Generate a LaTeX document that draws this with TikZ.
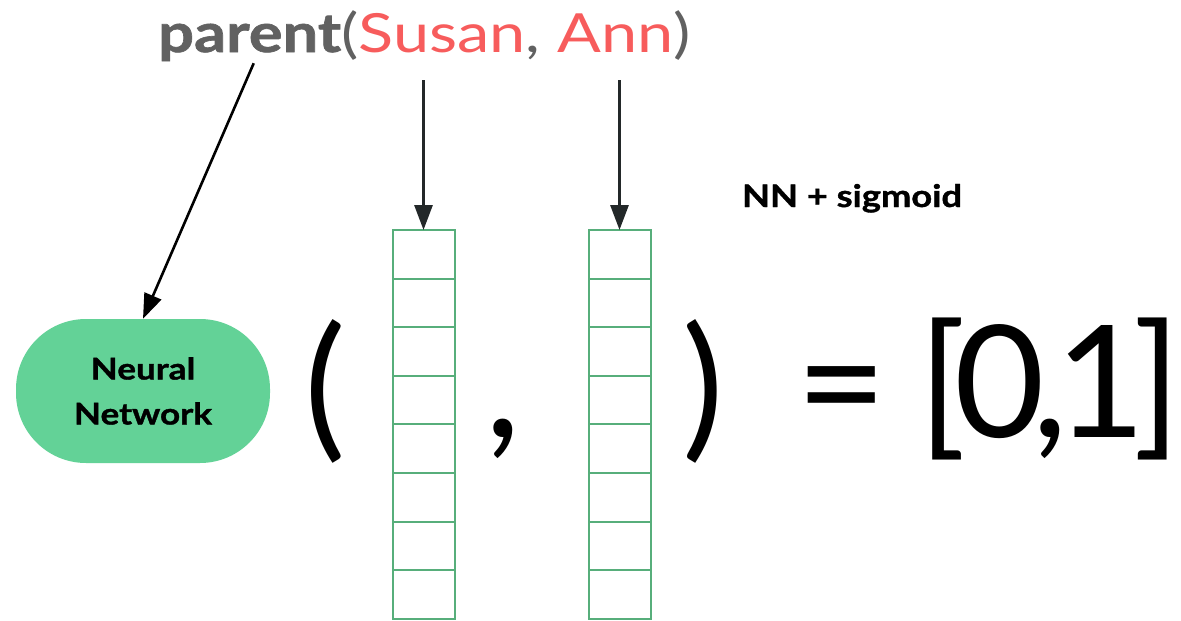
\documentclass[tikz,border=0pt]{standalone}
\usepackage{fontspec}
\setmainfont[FakeStretch=1.2,BoldFeatures={FakeStretch=1.17,FakeBold=1.2}]{Lato}
\newfontfamily\symbolfont{Lato}
\definecolor{predgray}{HTML}{616161}
\definecolor{argred}{HTML}{F75C5C}
\definecolor{nngreen}{HTML}{63D297}
\definecolor{cellgreen}{HTML}{57AE7B}
\definecolor{arrowdark}{HTML}{232829}
\usetikzlibrary{arrows.meta,positioning}
\tikzset{
    embedcell/.style={
        draw=cellgreen,
        fill=white,
        line width=2pt,
        minimum width=62pt,
        minimum height=48.6pt,
        inner sep=0pt,
        outer sep=0pt
    },
    netblob/.style={
        fill=nngreen,
        rounded corners=70pt,
        minimum width=254pt,
        minimum height=144pt,
        align=center,
        font=\bfseries\fontsize{30}{45}\selectfont
    },
    feedarrow/.style={
        -{Triangle[length=25pt,width=18pt]},
        draw=arrowdark,
        line width=3pt
    },
    bigsymbol/.style={
        font=\symbolfont\fontsize{156}{156}\selectfont,
        inner sep=0pt,
        anchor=base
    }
}

\begin{document}
\begin{tikzpicture}[x=1pt,y=-1pt]
        \useasboundingbox (0,0) rectangle (1181,621);

        \node[anchor=base west, inner sep=0pt, text=predgray,
            font=\bfseries\fontsize{54}{54}\selectfont] (predicate) at (158,52) {parent};
        \node[anchor=base west, inner sep=0pt, text=predgray,
            font=\fontsize{54}{54}\selectfont] (arguments) at (predicate.base east)
            {(\textcolor{argred}{Susan}, \textcolor{argred}{Ann})};

        \node[netblob] (network) at (143,391) {Neural\\Network};

        \foreach \i in {1,...,8} {
            \node[embedcell] (left\i) at (423.5,{230+48.6*(\i-0.5)}) {};
            \node[embedcell] (right\i) at (619.5,{230+48.6*(\i-0.5)}) {};
        }

        \coordinate (leftfeed) at (423.5,80);
        \coordinate (rightfeed) at (619.5,80);

        \draw[feedarrow, line width=2.6pt, draw=black]
            ([xshift=4pt,yshift=-2pt]predicate.south) -- (network.north);
        \draw[feedarrow] (leftfeed) -- (left1.north);
        \draw[feedarrow] (rightfeed) -- (right1.north);

        \node[anchor=base, inner sep=0pt,
            font=\bfseries\fontsize{31}{31}\selectfont] (headlabel) at (852,207) {NN + sigmoid};

        \node[bigsymbol] (openparen) at (325,440) {(};
        \node[bigsymbol] (midcomma) at (503,437) {,};
        \node[bigsymbol] (closeparen) at (703,440) {)};
        \node[bigsymbol] (equals) at (842,437) {=};
        \node[bigsymbol, anchor=base east] (range) at (1181,437)
            {\addfontfeature{LetterSpace=-8}[0,1]};
\end{tikzpicture}
\end{document}
